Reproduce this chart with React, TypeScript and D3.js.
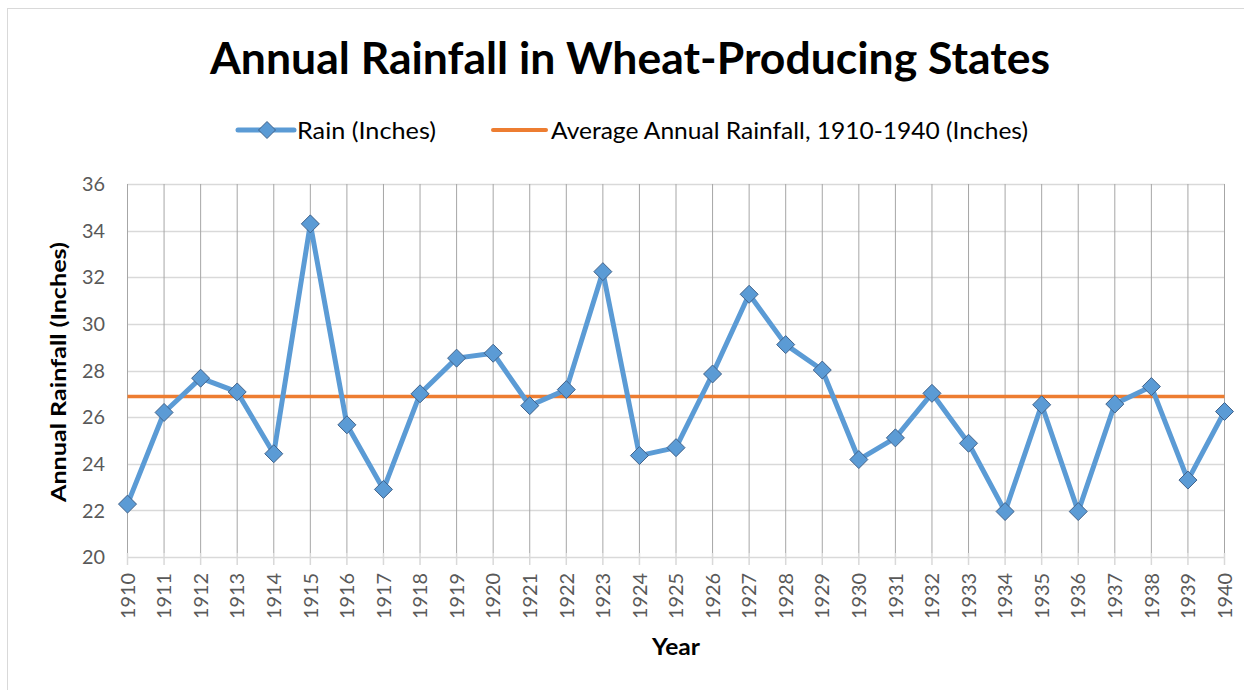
import React from "react";
import * as d3 from "d3";

const years: number[] = [
  1910, 1911, 1912, 1913, 1914, 1915, 1916, 1917, 1918, 1919, 1920,
  1921, 1922, 1923, 1924, 1925, 1926, 1927, 1928, 1929, 1930,
  1931, 1932, 1933, 1934, 1935, 1936, 1937, 1938, 1939, 1940,
];
const rain: number[] = [
  22.27, 26.2, 27.67, 27.08, 24.43, 34.29, 25.67, 22.9, 27.0, 28.53, 28.74,
  26.49, 27.18, 32.24, 24.35, 24.69, 27.85, 31.27, 29.11, 28.02, 24.18,
  25.11, 27.02, 24.88, 21.95, 26.53, 21.95, 26.56, 27.31, 23.3, 26.24,
];
const averageRain = 26.88;
const yTicks: number[] = [20, 22, 24, 26, 28, 30, 32, 34, 36];

const title = "Annual Rainfall in Wheat-Producing States";
const seriesName = "Rain (Inches)";
const averageName = "Average Annual Rainfall, 1910-1940 (Inches)";
const xTitle = "Year";
const yTitle = "Annual Rainfall (Inches)";

const BLUE = "#5b9bd5";
const ORANGE = "#ed7d31";
const MARKER_STROKE = "#41628a";
const FONT = "Lato, 'Open Sans', sans-serif";

function diamondPath(cx: number, cy: number, r: number) {
  return `M${cx},${cy - r}L${cx + r},${cy}L${cx},${cy + r}L${cx - r},${cy}Z`;
}

export default function App() {
  const W = 1244;
  const H = 690;
  const x = d3.scaleLinear().domain([1910, 1940]).range([127.5, 1224.5]);
  const y = d3.scaleLinear().domain([20, 36]).range([557, 184]);
  const data = years.map((yr, i) => ({ yr, v: rain[i] }));
  const line = d3
    .line<{ yr: number; v: number }>()
    .x((d) => x(d.yr))
    .y((d) => y(d.v));

  return (
    <svg
      width={W}
      height={H}
      style={{ position: "absolute", left: 0, top: 0, background: "#fff" }}
      fontFamily={FONT}
    >
      <rect x={0} y={0} width={W} height={H} fill="#fff" />
      <rect x={7.5} y={8.5} width={1245} height={690} fill="none" stroke="#d9d9d9" strokeWidth={1} />

      {/* Title */}
      <text
        x={630}
        y={74}
        textAnchor="middle"
        fontSize={43}
        fontWeight="bold"
        fill="#000"
        textLength={840}
        lengthAdjust="spacingAndGlyphs"
      >
        {title}
      </text>

      {/* Legend */}
      <g>
        <line x1={238} x2={294} y1={130} y2={130} stroke={BLUE} strokeWidth={5} strokeLinecap="round" />
        <path d={diamondPath(267, 130, 8.5)} fill={BLUE} stroke={MARKER_STROKE} strokeWidth={1} />
        <text x={297} y={138.5} fontSize={23} fill="#000" textLength={139} lengthAdjust="spacingAndGlyphs">
          {seriesName}
        </text>
        <line x1={493} x2={546} y1={130} y2={130} stroke={ORANGE} strokeWidth={4} strokeLinecap="round" />
        <text x={551} y={138.5} fontSize={23} fill="#000" textLength={477} lengthAdjust="spacingAndGlyphs">
          {averageName}
        </text>
      </g>

      {/* Horizontal gridlines */}
      {yTicks.map((t) => (
        <line
          key={"h" + t}
          x1={x(1910)}
          x2={x(1940)}
          y1={Math.round(y(t)) + 0.5}
          y2={Math.round(y(t)) + 0.5}
          stroke="#d9d9d9"
          strokeWidth={1.5}
        />
      ))}

      {/* Vertical gridlines */}
      {years.map((yr) => (
        <line
          key={"v" + yr}
          x1={x(yr)}
          x2={x(yr)}
          y1={y(36)}
          y2={y(20) - 4}
          stroke="#a6a6a6"
          strokeWidth={1}
        />
      ))}

      {/* X tick marks */}
      {years.map((yr) => (
        <line
          key={"t" + yr}
          x1={x(yr)}
          x2={x(yr)}
          y1={y(20) - 4}
          y2={y(20) + 8}
          stroke="#d9d9d9"
          strokeWidth={1.5}
        />
      ))}

      {/* Y tick labels */}
      {yTicks.map((t) => (
        <text
          key={"yl" + t}
          x={105}
          y={y(t)}
          dy="0.36em"
          textAnchor="end"
          fontSize={20}
          fill="#595959"
          textLength={23}
          lengthAdjust="spacingAndGlyphs"
        >
          {t}
        </text>
      ))}

      {/* X tick labels */}
      {years.map((yr) => (
        <text
          key={"xl" + yr}
          transform={`translate(${x(yr)},${573}) rotate(-90)`}
          textAnchor="end"
          dy="0.36em"
          fontSize={20}
          fill="#595959"
          textLength={46}
          lengthAdjust="spacingAndGlyphs"
        >
          {yr}
        </text>
      ))}

      {/* Average line */}
      <line
        x1={x(1910)}
        x2={x(1940)}
        y1={y(averageRain)}
        y2={y(averageRain)}
        stroke={ORANGE}
        strokeWidth={3.5}
      />

      {/* Rain line */}
      <path d={line(data) || ""} fill="none" stroke={BLUE} strokeWidth={5} strokeLinejoin="round" strokeLinecap="round" />
      {data.map((d) => (
        <path
          key={"m" + d.yr}
          d={diamondPath(x(d.yr), y(d.v), 9)}
          fill={BLUE}
          stroke={MARKER_STROKE}
          strokeWidth={1}
        />
      ))}

      {/* Axis titles */}
      <text
        transform={`translate(59,372) rotate(-90)`}
        textAnchor="middle"
        dy="0.35em"
        fontSize={21}
        fontWeight="bold"
        fill="#000"
        textLength={260}
        lengthAdjust="spacingAndGlyphs"
      >
        {yTitle}
      </text>
      <text
        x={676}
        y={655}
        textAnchor="middle"
        fontSize={23}
        fontWeight="bold"
        fill="#000"
        textLength={48}
        lengthAdjust="spacingAndGlyphs"
      >
        {xTitle}
      </text>
    </svg>
  );
}
